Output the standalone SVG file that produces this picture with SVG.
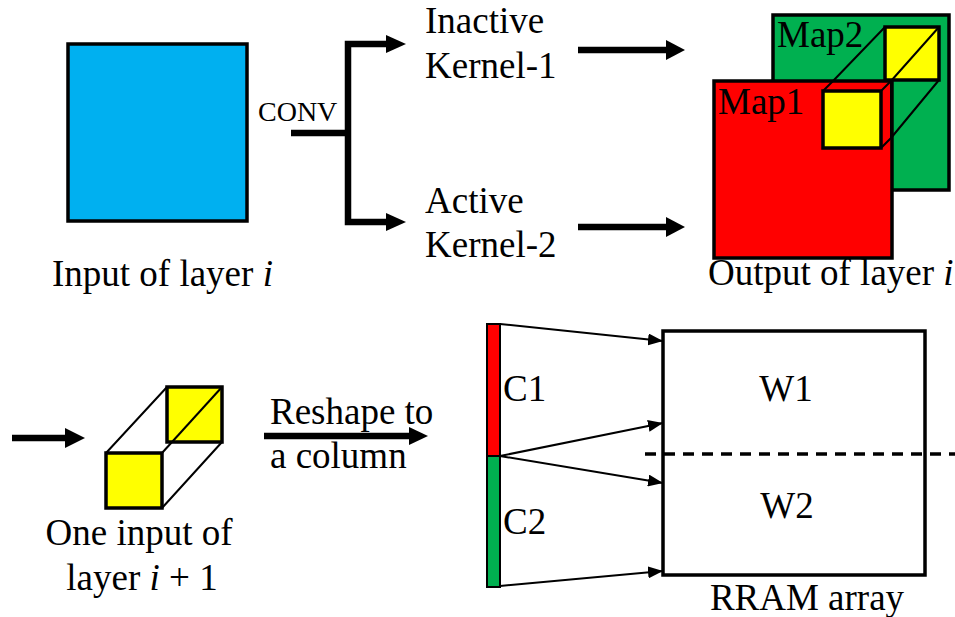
<svg xmlns="http://www.w3.org/2000/svg" width="955" height="617" viewBox="0 0 955 617">
  <style>
    text { font-family: "Liberation Serif", "Times New Roman", serif; fill: #000; }
    .lbl { font-size: 37px; }
    .sm { font-size: 28px; }
    .box { stroke: #000; stroke-width: 3.5; }
    .thin { fill: none; stroke: #000; stroke-width: 2; }
    .thick { fill: none; stroke: #000; stroke-width: 6.5; }
    .head { fill: #000; }
    .link { fill: none; stroke: #000; stroke-width: 2; marker-end: url(#tip); }
    .blue { fill: #00B0F0; }
    .red { fill: #FF0000; }
    .green { fill: #00B050; }
    .yellow { fill: #FFFF00; }
  </style>
  <defs>
    <marker id="tip" markerUnits="userSpaceOnUse" markerWidth="16" markerHeight="12" refX="15" refY="6" orient="auto">
      <path d="M0,0 L15,6 L0,12 z" fill="#000"/>
    </marker>
  </defs>

  <rect width="955" height="617" fill="#fff"/>

  <!-- input feature map of layer i -->
  <g id="input-layer">
    <rect class="box blue" x="68" y="44" width="179" height="177"/>
    <text class="lbl" x="52" y="286">Input of layer <tspan font-style="italic">i</tspan></text>
  </g>

  <!-- kernels -->
  <g id="kernel-1">
    <text class="lbl" x="425" y="33">Inactive</text>
    <text class="lbl" x="425" y="78">Kernel-1</text>
  </g>
  <g id="kernel-2">
    <text class="lbl" x="425" y="213">Active</text>
    <text class="lbl" x="425" y="257">Kernel-2</text>
  </g>

  <!-- output feature maps of layer i -->
  <g id="output-layer">
    <rect class="box green" x="773" y="15" width="176" height="175"/>
    <text class="lbl" x="777" y="47">Map2</text>
    <rect class="box red" x="714" y="81" width="178" height="177"/>
    <text class="lbl" x="718" y="114">Map1</text>
    <!-- receptive window through both maps -->
    <rect class="box yellow" x="885" y="27" width="54" height="53"/>
    <path class="thin" d="M833,81 L885,27 M891,81 L939,27 M891,138 L939,80"/>
    <path class="thin" d="M823,91 L833,81 H891 V138 L881,148 M881,91 L891,81" stroke-width="3"/>
    <rect class="box yellow" x="823" y="91" width="58" height="57"/>
    <text class="lbl" x="708" y="285">Output of layer <tspan font-style="italic">i</tspan></text>
  </g>

  <!-- one input of layer i+1 -->
  <g id="next-input">
    <path class="thin" d="M106,453 L167,387 M162,508 L222,442"/>
    <rect class="box yellow" x="167" y="387" width="55" height="55"/>
    <path class="thin" d="M162,453 L222,387"/>
    <rect class="box yellow" x="106" y="453" width="56" height="55"/>
    <text class="lbl" x="139" y="545" text-anchor="middle">One input of</text>
    <text class="lbl" x="142" y="590" text-anchor="middle">layer <tspan font-style="italic">i</tspan> + 1</text>
  </g>

  <!-- reshaped column -->
  <g id="column">
    <rect x="487" y="324" width="13" height="132" class="red" stroke="#000" stroke-width="2"/>
    <rect x="487" y="456" width="13" height="131" class="green" stroke="#000" stroke-width="2"/>
    <text class="lbl" x="503" y="401">C1</text>
    <text class="lbl" x="503" y="534">C2</text>
  </g>

  <!-- RRAM crossbar -->
  <g id="rram-array">
    <rect x="663" y="331" width="262" height="244" fill="#fff" stroke="#000" stroke-width="3.5"/>
    <text class="lbl" x="786" y="401" text-anchor="middle">W1</text>
    <text class="lbl" x="787" y="518" text-anchor="middle">W2</text>
    <text class="lbl" x="807" y="610" text-anchor="middle">RRAM array</text>
  </g>

  <g id="reshape-label">
    <text class="lbl" x="270" y="424">Reshape to</text>
    <text class="lbl" x="270" y="468">a column</text>
  </g>

  <g id="conv-label">
    <text class="sm" x="258" y="121">CONV</text>
  </g>

  <g id="connectors">
    <!-- CONV fork -->
    <path class="thick" d="M291,133 H348"/>
    <path class="thick" d="M388,44 H348 V222 H388"/>
    <polygon class="head" points="386,35 406,44 386,53"/>
    <polygon class="head" points="386,213 406,222 386,231"/>
    <!-- kernels to output maps -->
    <path class="thick" d="M578,50 H668"/>
    <polygon class="head" points="666,40 685,50 666,60"/>
    <path class="thick" d="M578,227 H668"/>
    <polygon class="head" points="666,217 685,227 666,237"/>
    <!-- into layer i+1 input -->
    <path class="thick" d="M12,438 H67"/>
    <polygon class="head" points="65,428 85,438 65,448"/>
    <!-- reshape -->
    <path class="thick" d="M264,436 H411"/>
    <polygon class="head" points="409,427 428,436 409,445"/>
    <!-- column to array rows -->
    <path class="link" d="M500,324 L663,341"/>
    <path class="link" d="M500,456 L663,423"/>
    <path class="link" d="M500,456 L663,483"/>
    <path class="link" d="M500,586 L663,571"/>
    <!-- row split -->
    <path d="M645,454 H955" fill="none" stroke="#000" stroke-width="3.5" stroke-dasharray="11 8"/>
  </g>
</svg>
